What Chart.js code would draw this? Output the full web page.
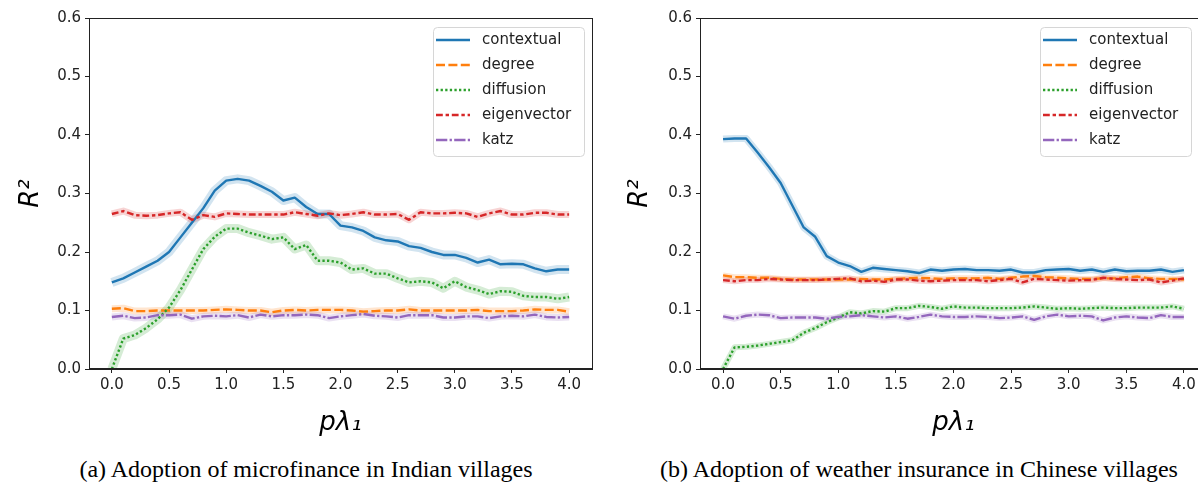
<!DOCTYPE html>
<html>
<head>
<meta charset="utf-8">
<title>R2 vs p lambda</title>
<script src="https://cdn.jsdelivr.net/npm/chart.js@4.4.1/dist/chart.umd.min.js"></script>
<style>
  html, body { margin: 0; padding: 0; background: #fff; overflow: hidden; width: 1198px; height: 491px; }
  canvas { position: absolute; top: 0; }
  #chart-a { left: 0; }
  #chart-b { left: 600px; }
  .caption {
    position: absolute; top: 456px;
    font-family: "Liberation Serif", "Times New Roman", serif;
    font-size: 24px; color: #000; white-space: nowrap;
    transform: translateX(-50%);
  }
</style>
</head>
<body>
<canvas id="chart-a" width="600" height="445"></canvas>
<canvas id="chart-b" width="612" height="445"></canvas>
<div class="caption" style="left:306px">(a) Adoption of microfinance in Indian villages</div>
<div class="caption" style="left:919px">(b) Adoption of weather insurance in Chinese villages</div>

<script>
// x positions (p * lambda_1)
const xValues = [0.0, 0.1, 0.2, 0.3, 0.4, 0.5, 0.6, 0.7, 0.8, 0.9,
                 1.0, 1.1, 1.2, 1.3, 1.4, 1.5, 1.6, 1.7, 1.8, 1.9,
                 2.0, 2.1, 2.2, 2.3, 2.4, 2.5, 2.6, 2.7, 2.8, 2.9,
                 3.0, 3.1, 3.2, 3.3, 3.4, 3.5, 3.6, 3.7, 3.8, 3.9, 4.0];
const xTicks = [0, 0.5, 1, 1.5, 2, 2.5, 3, 3.5, 4];
const yTicks = [0, 0.1, 0.2, 0.3, 0.4, 0.5, 0.6];
const seriesNames = ['contextual', 'degree', 'diffusion', 'eigenvector', 'katz'];

// (a) microfinance, Indian villages
const microContextual = [0.148, 0.155, 0.165, 0.175, 0.185, 0.200, 0.225, 0.250, 0.275, 0.305,
                         0.322, 0.325, 0.322, 0.313, 0.303, 0.288, 0.293, 0.277, 0.265, 0.265,
                         0.245, 0.242, 0.236, 0.225, 0.220, 0.218, 0.210, 0.207, 0.200, 0.195,
                         0.195, 0.190, 0.182, 0.187, 0.179, 0.180, 0.179, 0.172, 0.167, 0.170, 0.170];
const microDegree = [0.103, 0.104, 0.099, 0.099, 0.100, 0.100, 0.100, 0.100, 0.100, 0.101,
                     0.102, 0.101, 0.100, 0.100, 0.097, 0.100, 0.101, 0.100, 0.101, 0.101,
                     0.101, 0.100, 0.098, 0.099, 0.100, 0.100, 0.102, 0.100, 0.100, 0.100,
                     0.100, 0.100, 0.101, 0.099, 0.099, 0.099, 0.100, 0.102, 0.101, 0.101, 0.098];
const microDiffusion = [0.000, 0.052, 0.058, 0.070, 0.085, 0.105, 0.135, 0.170, 0.205, 0.226,
                        0.240, 0.240, 0.233, 0.228, 0.222, 0.225, 0.205, 0.212, 0.185, 0.185,
                        0.182, 0.170, 0.172, 0.163, 0.163, 0.155, 0.148, 0.150, 0.148, 0.138,
                        0.150, 0.140, 0.135, 0.128, 0.133, 0.132, 0.125, 0.123, 0.123, 0.120, 0.123];
const microEigenvector = [0.265, 0.270, 0.263, 0.262, 0.263, 0.266, 0.268, 0.255, 0.263, 0.260,
                          0.266, 0.265, 0.264, 0.264, 0.264, 0.264, 0.268, 0.265, 0.262, 0.266,
                          0.263, 0.265, 0.268, 0.264, 0.264, 0.265, 0.255, 0.268, 0.266, 0.266,
                          0.267, 0.266, 0.260, 0.266, 0.270, 0.264, 0.264, 0.267, 0.267, 0.264, 0.264];
const microKatz = [0.089, 0.091, 0.087, 0.088, 0.092, 0.092, 0.093, 0.086, 0.090, 0.091,
                   0.090, 0.092, 0.088, 0.093, 0.090, 0.092, 0.092, 0.093, 0.092, 0.087,
                   0.090, 0.092, 0.094, 0.091, 0.090, 0.088, 0.092, 0.092, 0.092, 0.088,
                   0.088, 0.090, 0.090, 0.087, 0.090, 0.091, 0.090, 0.093, 0.089, 0.088, 0.089];

// (b) weather insurance, Chinese villages
const weatherContextual = [0.393, 0.394, 0.394, 0.370, 0.345, 0.318, 0.280, 0.242, 0.226, 0.193,
                           0.182, 0.176, 0.166, 0.173, 0.171, 0.169, 0.167, 0.164, 0.170, 0.168,
                           0.170, 0.171, 0.169, 0.169, 0.168, 0.170, 0.165, 0.165, 0.169, 0.170,
                           0.171, 0.168, 0.170, 0.166, 0.170, 0.167, 0.168, 0.168, 0.170, 0.166, 0.169];
const weatherDegree = [0.160, 0.157, 0.157, 0.156, 0.156, 0.154, 0.153, 0.153, 0.153, 0.153,
                       0.153, 0.153, 0.154, 0.153, 0.153, 0.154, 0.155, 0.156, 0.155, 0.154,
                       0.155, 0.155, 0.155, 0.156, 0.154, 0.156, 0.158, 0.159, 0.157, 0.156,
                       0.155, 0.154, 0.154, 0.155, 0.155, 0.157, 0.158, 0.155, 0.154, 0.154, 0.153];
const weatherDiffusion = [0.000, 0.037, 0.038, 0.040, 0.043, 0.046, 0.049, 0.062, 0.070, 0.080,
                          0.088, 0.097, 0.095, 0.099, 0.098, 0.104, 0.104, 0.108, 0.106, 0.103,
                          0.107, 0.105, 0.105, 0.104, 0.104, 0.104, 0.105, 0.107, 0.105, 0.103,
                          0.104, 0.103, 0.104, 0.105, 0.104, 0.104, 0.105, 0.105, 0.105, 0.107, 0.103];
const weatherEigenvector = [0.152, 0.150, 0.152, 0.152, 0.154, 0.153, 0.152, 0.152, 0.152, 0.153,
                            0.154, 0.155, 0.150, 0.151, 0.149, 0.153, 0.153, 0.151, 0.150, 0.151,
                            0.152, 0.152, 0.152, 0.150, 0.152, 0.154, 0.148, 0.154, 0.153, 0.152,
                            0.151, 0.152, 0.152, 0.156, 0.154, 0.153, 0.152, 0.153, 0.148, 0.151, 0.155];
const weatherKatz = [0.090, 0.086, 0.091, 0.093, 0.092, 0.087, 0.088, 0.088, 0.088, 0.086,
                     0.089, 0.090, 0.092, 0.090, 0.088, 0.090, 0.086, 0.089, 0.093, 0.090,
                     0.089, 0.089, 0.090, 0.089, 0.087, 0.088, 0.090, 0.084, 0.090, 0.093,
                     0.090, 0.091, 0.090, 0.083, 0.088, 0.090, 0.088, 0.087, 0.092, 0.089, 0.089];

// styles (matplotlib tab10 + seaborn dashes)
const seriesColors = ['#1f77b4', '#ff7f0e', '#2ca02c', '#d62728', '#9467bd'];
const bandColors = ['rgba(31,119,180,0.2)', 'rgba(255,127,14,0.2)', 'rgba(44,160,44,0.2)',
                    'rgba(214,39,40,0.2)', 'rgba(148,103,189,0.2)'];
const seriesDashes = [[], [9, 3.4], [2.3, 2.3], [6.8, 2.8, 3.4, 2.8], [11.3, 2.3, 2.3, 2.3]];
const LINE_W = 2.4;
const FONT = 'DejaVu Sans';
const INK = '#222';

function buildDatasets(seriesList, bandWidths) {
  const out = [];
  seriesList.forEach((vals, i) => {
    const pts = vals.map((v, j) => ({ x: xValues[j], y: v }));
    // shaded confidence band (wide translucent stroke)
    out.push({
      label: '', isBand: true, data: pts,
      borderColor: bandColors[i], borderWidth: bandWidths[i],
      borderJoinStyle: 'round', borderCapStyle: 'butt',
      pointRadius: 0, fill: false, tension: 0, order: 50 - i
    });
    out.push({
      label: seriesNames[i], data: pts,
      borderColor: seriesColors[i], borderWidth: LINE_W,
      borderDash: seriesDashes[i], borderJoinStyle: 'round',
      pointRadius: 0, fill: false, tension: 0, order: 10 - i
    });
  });
  return out;
}

// top/right frame + matplotlib style legend in the upper right
const frameLegend = {
  id: 'frameLegend',
  afterDraw(chart, args, opts) {
    const ctx = chart.ctx;
    const a = chart.chartArea;
    ctx.save();
    ctx.strokeStyle = INK;
    ctx.lineWidth = 1;
    ctx.setLineDash([]);
    ctx.strokeRect(Math.round(a.left) + 0.5, Math.round(a.top) + 0.5,
                   Math.round(a.right - a.left), Math.round(a.bottom - a.top) - 1);

    const w = 151, h = 129;
    const left = a.right - opts.rightOffset - w;
    const top = a.top + 9;
    ctx.beginPath();
    ctx.roundRect(left + 0.5, top + 0.5, w, h, 4);
    ctx.fillStyle = 'rgba(255,255,255,0.8)';
    ctx.fill();
    ctx.strokeStyle = '#d6d6d6';
    ctx.stroke();

    const items = chart.data.datasets.filter(d => !d.isBand);
    ctx.font = '15px "' + FONT + '"';
    ctx.textBaseline = 'middle';
    items.forEach((d, k) => {
      const y = top + 13 + k * 25;
      ctx.beginPath();
      ctx.strokeStyle = d.borderColor;
      ctx.lineWidth = LINE_W;
      ctx.setLineDash(d.borderDash);
      ctx.moveTo(left + 3, y);
      ctx.lineTo(left + 37, y);
      ctx.stroke();
      ctx.setLineDash([]);
      ctx.fillStyle = INK;
      ctx.fillText(d.label, left + 49, y);
    });
    ctx.restore();
  }
};

function makeChart(id, seriesList, bandWidths, opt) {
  return new Chart(document.getElementById(id), {
    type: 'line',
    data: { datasets: buildDatasets(seriesList, bandWidths) },
    options: {
      responsive: false,
      animation: false,
      events: [],
      layout: { padding: { top: 18, right: opt.padRight, bottom: 0, left: 0 } },
      plugins: {
        legend: { display: false },
        tooltip: { enabled: false },
        frameLegend: { rightOffset: opt.legendRight }
      },
      scales: {
        x: {
          type: 'linear', min: -0.2, max: 4.2,
          afterBuildTicks: s => { s.ticks = xTicks.map(v => ({ value: v })); },
          afterFit: s => { s.height = 76; },
          ticks: {
            callback: v => v.toFixed(1), autoSkip: false, maxRotation: 0,
            font: { family: FONT, size: 15 }, color: INK, padding: 3
          },
          grid: { drawOnChartArea: false, drawTicks: true, tickLength: 4, color: INK },
          border: { display: true, color: INK, width: 1 },
          title: {
            display: true, text: 'pλ₁', color: '#000',
            font: { family: FONT, size: 26, style: 'italic' },
            padding: { top: 0, bottom: 6 }
          }
        },
        y: {
          type: 'linear', min: 0, max: 0.6,
          afterBuildTicks: s => { s.ticks = yTicks.map(v => ({ value: v })); },
          afterFit: s => { s.width = opt.axisLeft; },
          ticks: {
            callback: v => v.toFixed(1),
            font: { family: FONT, size: 15 }, color: INK, padding: 4
          },
          grid: { drawOnChartArea: false, drawTicks: true, tickLength: 4, color: INK },
          border: { display: true, color: INK, width: 1 },
          title: {
            display: true, text: 'R²', color: '#000',
            font: { family: FONT, size: 26, style: 'italic' },
            padding: { top: opt.titleLeft - 15.6, bottom: 0 }
          }
        }
      }
    },
    plugins: [frameLegend]
  });
}

makeChart('chart-a',
  [microContextual, microDegree, microDiffusion, microEigenvector, microKatz],
  [9, 7, 9, 7, 7],
  { padRight: 8, axisLeft: 89, titleLeft: 31, legendRight: 8 });

makeChart('chart-b',
  [weatherContextual, weatherDegree, weatherDiffusion, weatherEigenvector, weatherKatz],
  [7, 6, 6, 6, 6],
  { padRight: 5, axisLeft: 100, titleLeft: 40, legendRight: 16 });
</script>
</body>
</html>
